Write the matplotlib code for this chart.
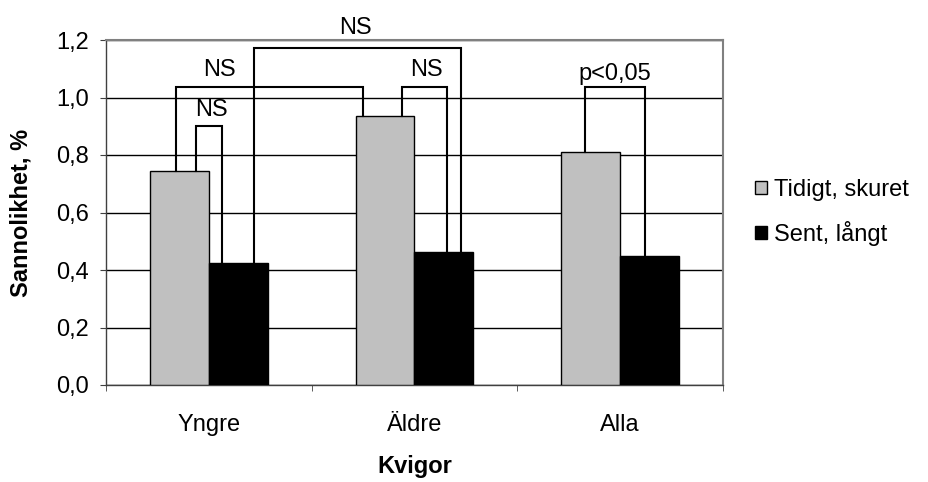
import matplotlib
matplotlib.use("Agg")
import matplotlib.pyplot as plt
import numpy as np

categories = ["Yngre", "Äldre", "Alla"]
series_names = ["Tidigt, skuret", "Sent, långt"]
tidigt = [0.745, 0.935, 0.81]
sent = [0.423, 0.464, 0.449]
yticks = [0.0, 0.2, 0.4, 0.6, 0.8, 1.0, 1.2]
ytick_labels = ["0,0", "0,2", "0,4", "0,6", "0,8", "1,0", "1,2"]

# brackets: (x_left, y_left_bottom, x_right, y_right_bottom, y_top, label, label_x, gap)
brackets = [
    (-0.063, tidigt[0], 0.063, sent[0], 0.90, "NS", 0.015, 0.018),
    (-0.16, tidigt[0], 1 - 0.248, tidigt[1], 1.037, "NS", 0.053, 0.022),
    (0.219, sent[0], 1 + 0.227, sent[1], 1.173, "NS", 0.715, 0.03),
    (1 - 0.063, tidigt[1], 1 + 0.159, sent[1], 1.037, "NS", 1.06, 0.022),
    (2 - 0.17, tidigt[2], 2 + 0.12, sent[2], 1.037, "p<0,05", 1.975, 0.005),
]

plt.rcParams['font.family'] = ['Liberation Sans', 'DejaVu Sans']
FS = 17

fig = plt.figure(figsize=(9.29, 4.82), dpi=100)
ax = fig.add_axes([106/929, 1-385/482, (723-106)/929, (385-40)/482])

x = np.arange(len(categories))
w = 1/3.5
ax.bar(x - w/2, tidigt, width=w, color="#C0C0C0", edgecolor="black", linewidth=1, zorder=3, label=series_names[0])
ax.bar(x + w/2, sent, width=w, color="black", edgecolor="black", linewidth=1, zorder=3, label=series_names[1])

for (xl, yl, xr, yr, yt, lab, lx, gap) in brackets:
    ax.plot([xl, xl, xr, xr], [yl, yt, yt, yr], color="black", lw=1.5, zorder=4, clip_on=False,
            solid_joinstyle="miter")
    ax.text(lx, yt + gap, lab, ha="center", va="bottom", fontsize=FS, clip_on=False, zorder=5)

ax.set_xlim(-0.5, 2.5)
ax.set_ylim(0, 1.2)
ax.set_yticks(yticks)
ax.set_yticklabels(ytick_labels, fontsize=FS)
ax.set_xticks(x)
ax.set_xticklabels(categories, fontsize=FS)
ax.set_xticks([-0.5, 0.5, 1.5, 2.5], minor=True)
ax.tick_params(axis="x", which="major", length=0, pad=21)
ax.tick_params(axis="x", which="minor", length=4.5, direction="out", color="#404040")
ax.tick_params(axis="y", length=4.5, direction="out", color="#404040", pad=8)

ax.yaxis.grid(True, color="black", lw=1, zorder=0)
ax.set_axisbelow(True)
for s in ["top", "right"]:
    ax.spines[s].set_color("#808080")
    ax.spines[s].set_linewidth(1.5)
for s in ["left", "bottom"]:
    ax.spines[s].set_color("#404040")
    ax.spines[s].set_linewidth(1)

ax.set_ylabel("Sannolikhet, %", fontsize=FS, fontweight="bold")
ax.yaxis.set_label_coords((21 - 106) / 617, 0.5)
ax.yaxis.label.set_va("center")
ax.set_xlabel("Kvigor", fontsize=FS, fontweight="bold")
ax.xaxis.set_label_coords(0.5, (385 - 467) / 345)
ax.xaxis.label.set_va("center")

leg = ax.legend(loc="center left", bbox_to_anchor=(1.052, 0.5), frameon=False, fontsize=FS,
                borderpad=0, borderaxespad=0,
                handlelength=0.5, handleheight=0.5, handletextpad=0.3, labelspacing=0.85)

fig.savefig("out.png", dpi=100)
